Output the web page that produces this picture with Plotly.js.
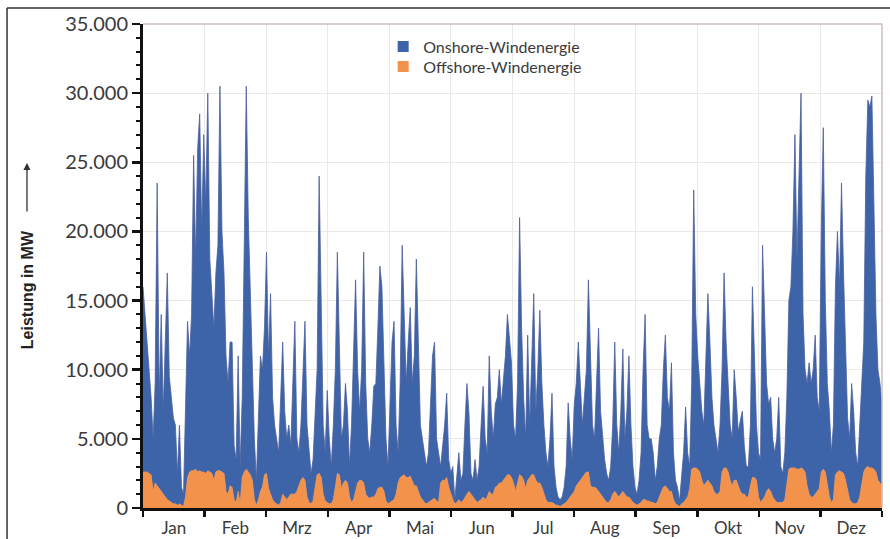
<!DOCTYPE html>
<html>
<head>
<meta charset="utf-8">
<script src="https://cdn.plot.ly/plotly-3.0.1.min.js"></script>
<style>html,body{margin:0;padding:0;background:#fff;}#chart{width:890px;height:539px;}</style>
</head>
<body>
<div id="chart"></div>
<script>
const months = ['Jan','Feb','Mrz','Apr','Mai','Jun','Jul','Aug','Sep','Okt','Nov','Dez'];
const yTicks = [0, 5000, 10000, 15000, 20000, 25000, 30000, 35000];

// Onshore wind power (MW), one value per day
const onshoreMW = [
13400,11400,9400,7000,5600,3800,7200,21900,6600,12800,
6000,11200,16400,9000,7600,6200,5700,2300,5700,1300,
900,7200,11300,8400,11300,22800,15200,23400,25800,17400,
24400,19500,27300,15400,12500,11000,14400,16300,27800,17400,
14500,9800,8000,10400,10500,3900,3100,9800,2700,5800,
16400,27700,18400,12600,7000,4400,1800,6400,9800,8500,
10600,16000,9600,14500,7400,5600,4700,3800,7600,11000,
6200,4400,5200,3500,8000,12500,3800,2400,4000,7800,
11500,5200,3600,2200,3000,5500,7600,21500,11800,5000,
3500,8100,4700,2700,5400,8500,16000,9600,3600,4200,
7000,5200,2200,5600,10400,15300,8200,5000,8000,16700,
8000,4200,3300,5200,8000,8000,11600,16000,14500,8800,
4500,2700,6600,11500,12900,5000,2200,6800,16700,10600,
6800,9800,12200,7000,9400,16400,9800,5200,4400,3600,
2700,3600,6500,10400,11300,4500,3600,1200,2500,4000,
6100,2000,1500,2400,300,2100,3400,1600,2000,5200,
8000,5600,1500,1200,2900,1600,2500,5400,8000,4400,
3200,9800,6000,4000,6000,6400,8200,5700,7000,8800,
11600,9600,8300,4200,3800,7200,18600,10700,6000,3600,
10500,3800,8600,13100,5000,8200,12500,7500,5000,3400,
2600,4600,7900,2700,1300,600,500,600,1200,2600,
7000,4200,2500,6300,7400,10200,7000,3800,5600,7400,
13900,9400,4500,3500,7600,11800,6000,4200,2900,2100,
1600,2400,5000,10800,5000,3200,6000,10300,4000,6200,
10200,5400,2600,1200,800,1700,3600,9400,13400,5500,
4500,4600,3600,1700,2600,4200,4800,8500,10900,6600,
5800,9300,3400,1700,1300,400,1700,3600,6700,3200,
1600,6200,20100,11100,8200,6400,5000,4400,9200,13500,
10200,6400,4800,4000,3000,4800,7400,14100,9100,6400,
4000,3400,8000,6000,3900,5100,6000,3500,2200,2200,
4400,13800,8800,4000,3200,3100,18400,12200,7800,6100,
6800,4200,3400,4600,7600,2600,2100,3400,6200,12200,
13100,17100,24100,15200,21200,27100,11200,7400,7400,9500,
8200,9200,11500,6800,5600,17400,24700,12400,7400,6200,
3600,5400,13600,17400,13300,20900,14500,10000,5300,4400,
8600,6700,3700,2600,5200,7200,9400,21100,26500,26100,
26900,19200,11400,8000,7200,5900
];

// Offshore wind power (MW), one value per day
const offshoreMW = [
2600,2600,2600,2500,2400,1200,1800,1600,1400,1200,
1000,800,600,500,400,300,300,200,300,200,
100,800,2200,2600,2700,2700,2800,2600,2700,2600,
2600,2500,2700,2600,2500,2000,2600,2700,2700,2600,
2500,1200,1000,1600,1500,600,400,1200,300,2200,
2600,2800,2600,2400,2000,600,200,600,1200,1500,
2400,2500,1400,1000,600,400,300,200,400,1000,
800,600,800,1000,1000,1000,1200,1600,2000,2200,
2000,800,400,300,500,1500,2400,2500,2200,1000,
500,400,300,300,600,1500,2500,2400,1400,1800,
2000,1800,800,400,600,1200,1800,2000,2000,1800,
1000,800,700,800,800,1000,1400,1500,1500,1200,
500,300,400,500,600,1000,1800,2200,2300,2400,
2200,2200,2300,2000,1600,1600,1200,800,600,400,
300,400,500,600,700,500,400,1800,2000,2000,
2200,1500,1000,600,300,400,600,400,500,800,
1000,1200,1000,800,600,400,500,600,800,600,
800,1200,1000,1000,1500,1600,1800,1800,2000,2200,
2400,2400,2200,1800,1200,1800,2400,2300,2000,1400,
2000,2200,2400,2400,2000,1800,1800,1500,1000,600,
400,400,400,300,200,200,100,200,300,400,
600,800,1000,1200,1600,1800,2000,2200,2400,2600,
2600,1600,1500,1500,1400,1200,1000,800,600,400,
400,600,1000,1200,1000,800,1000,1200,1000,800,
800,600,400,300,200,300,400,600,600,500,
500,400,400,300,400,800,1200,1500,1600,1400,
1200,1200,600,300,200,100,300,400,600,800,
1400,2800,2900,2900,2800,2600,2000,1600,1800,2000,
1800,1600,1200,1000,1000,1200,2600,2900,2900,2600,
2000,1600,2000,2000,1600,1200,1000,1000,800,800,
1600,2200,2200,2000,800,400,600,800,1200,1400,
1200,800,600,400,400,400,400,600,1800,2800,
2900,2900,2900,2800,2800,2900,2800,2600,1600,1000,
800,800,1000,1200,1400,2600,2800,2600,1600,800,
400,600,2400,2600,2700,2600,2500,2000,1200,600,
400,300,300,400,800,1800,2600,2900,3000,2900,
2900,2800,2600,2000,1800,1600
];

const BLUE = '#3d64a9';
const ORANGE = '#f3924b';
const days = onshoreMW.map((_, i) => i);
const yearLen = 365;
const monthLen = yearLen / 12;
const monthMid = months.map((_, i) => (i + 0.5) * monthLen);

const traces = [
  { x: days, y: offshoreMW, type: 'scatter', mode: 'lines', stackgroup: 'wind',
    line: { color: ORANGE, width: 0.8 }, fillcolor: ORANGE, showlegend: false,
    name: 'Offshore-Windenergie', hoverinfo: 'skip' },
  { x: days, y: onshoreMW, type: 'scatter', mode: 'lines', stackgroup: 'wind',
    line: { color: '#4b5f9c', width: 0.8 }, fillcolor: BLUE, showlegend: false,
    name: 'Onshore-Windenergie', hoverinfo: 'skip' },
  { x: [null], y: [null], type: 'scatter', mode: 'markers', name: 'Onshore-Windenergie',
    legend: 'legend', marker: { symbol: 'square', size: 11, color: BLUE } },
  { x: [null], y: [null], type: 'scatter', mode: 'markers', name: 'Offshore-Windenergie',
    legend: 'legend2', marker: { symbol: 'square', size: 11, color: ORANGE } }
];

const FONT = 'Lato, "Open Sans", sans-serif';
const legendStyle = (y) => ({
  x: 0.325, xanchor: 'left', y: y, yanchor: 'middle',
  bgcolor: 'rgba(255,255,255,0)', borderwidth: 0,
  font: { family: FONT, size: 16, color: '#3a3a3a' }, itemclick: false
});

const layout = {
  width: 890, height: 539,
  margin: { l: 143, r: 8, t: 24, b: 31 },
  paper_bgcolor: '#ffffff', plot_bgcolor: '#ffffff',
  separators: ',.',
  font: { family: FONT, size: 17, color: '#3a3a3a' },
  showlegend: true,
  legend: legendStyle(0.9535),
  legend2: legendStyle(0.912),
  xaxis: {
    range: [0, yearLen], fixedrange: true,
    tickmode: 'array', tickvals: monthMid, ticktext: months,
    ticks: 'outside', ticklen: 3, tickcolor: 'rgba(0,0,0,0)',
    tickfont: { family: FONT, size: 17, color: '#3a3a3a' },
    showgrid: false, zeroline: false,
    showline: true, linecolor: '#111', linewidth: 3,
    minor: { tick0: 0, dtick: monthLen, ticks: 'outside', ticklen: 6, tickwidth: 2.5,
      tickcolor: '#111', showgrid: true, gridcolor: '#e9e9e9', gridwidth: 1 }
  },
  yaxis: {
    range: [0, 35000], fixedrange: true,
    tickmode: 'array', tickvals: yTicks, tickformat: ',d',
    ticks: 'outside', ticklen: 8, tickwidth: 2.5, tickcolor: '#111',
    tickfont: { family: FONT, size: 20, color: '#3a3a3a' },
    showgrid: true, gridcolor: '#efe7e3', gridwidth: 1, zeroline: false,
    showline: true, linecolor: '#111', linewidth: 3,
    minor: { dtick: 1000, ticks: 'outside', ticklen: 4, tickwidth: 2, tickcolor: '#111', showgrid: false }
  },
  shapes: [
    { type: 'line', xref: 'paper', yref: 'paper', x0: 0, x1: 1, y0: 1, y1: 1,
      line: { color: '#cbbfba', width: 1.5 } },
    { type: 'line', xref: 'paper', yref: 'paper', x0: 1, x1: 1, y0: 0, y1: 1,
      line: { color: '#cbbfba', width: 1.5 } },
    { type: 'line', xref: 'paper', yref: 'paper', x0: -0.184, x1: -0.184, y0: 1.033, y1: -0.07,
      line: { color: '#333', width: 1.5 } },
    { type: 'line', xref: 'paper', yref: 'paper', x0: -0.184, x1: 1.02, y0: 1.033, y1: 1.033,
      line: { color: '#333', width: 1.5 } }
  ],
  annotations: [
    { xref: 'paper', yref: 'paper', x: -0.157, y: 0.452, text: '<b>Leistung in MW</b>',
      textangle: -90, showarrow: false, xanchor: 'center', yanchor: 'middle',
      font: { family: '"Liberation Sans", Arial, sans-serif', size: 16, color: '#222' } },
    { xref: 'paper', yref: 'paper', x: -0.157, y: 0.713, text: '', showarrow: true,
      ax: 0, ay: 50, arrowhead: 2, arrowsize: 1.1, arrowwidth: 1.3, arrowcolor: '#333' }
  ]
};

Plotly.newPlot('chart', traces, layout, { staticPlot: true, displayModeBar: false });
</script>
</body>
</html>
